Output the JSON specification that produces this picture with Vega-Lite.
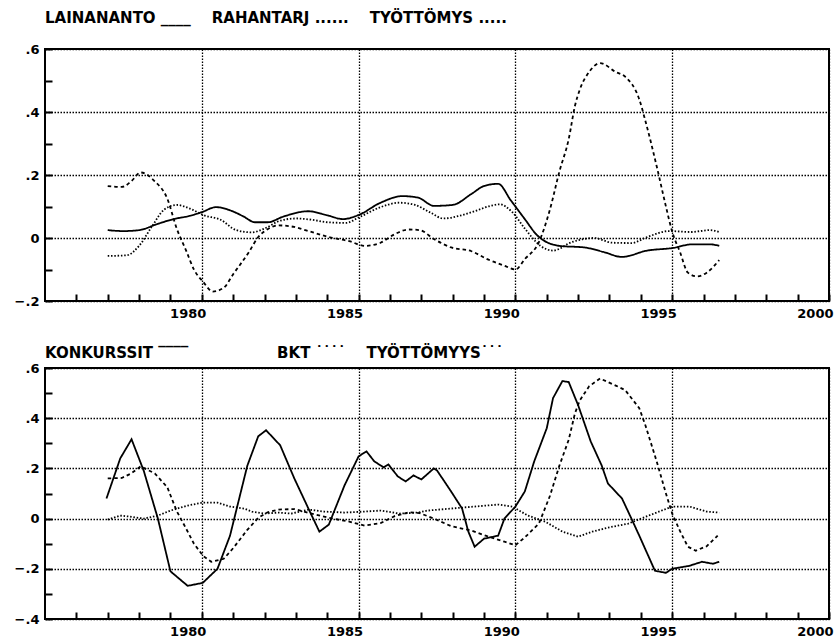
{
  "$schema": "https://vega.github.io/schema/vega-lite/v6.json",
  "background": "white",
  "padding": {"left": 13, "top": 10, "right": 3, "bottom": 2},
  "spacing": 67,
  "bounds": "flush",
  "config": {
    "view": {"stroke": "black", "strokeWidth": 2},
    "font": "DejaVu Sans",
    "axis": {
      "title": null,
      "domain": false,
      "ticks": true,
      "tickSize": -7,
      "tickColor": "black",
      "tickWidth": 2,
      "grid": true,
      "gridColor": "black",
      "gridDash": [1.5, 1.5],
      "gridWidth": 1.3,
      "labelFont": "DejaVu Sans",
      "labelFontSize": 13,
      "labelFontWeight": "bold",
      "labelColor": "black",
      "labelFlush": false,
      "labelOverlap": false
    },
    "title": {"font": "DejaVu Sans", "fontSize": 15, "fontWeight": "bold", "color": "black", "anchor": "start", "frame": "group", "baseline": "alphabetic"}
  },
  "datasets": {
    "top": [
      {"series": "LAINANANTO", "year": 1977.0, "value": 0.025},
      {"series": "LAINANANTO", "year": 1977.5, "value": 0.022},
      {"series": "LAINANANTO", "year": 1978.0, "value": 0.025},
      {"series": "LAINANANTO", "year": 1978.6, "value": 0.045},
      {"series": "LAINANANTO", "year": 1979.1, "value": 0.06},
      {"series": "LAINANANTO", "year": 1979.6, "value": 0.07},
      {"series": "LAINANANTO", "year": 1980.0, "value": 0.082},
      {"series": "LAINANANTO", "year": 1980.45, "value": 0.098},
      {"series": "LAINANANTO", "year": 1980.9, "value": 0.088},
      {"series": "LAINANANTO", "year": 1981.3, "value": 0.07},
      {"series": "LAINANANTO", "year": 1981.7, "value": 0.05},
      {"series": "LAINANANTO", "year": 1982.1, "value": 0.05},
      {"series": "LAINANANTO", "year": 1982.6, "value": 0.068},
      {"series": "LAINANANTO", "year": 1983.4, "value": 0.085},
      {"series": "LAINANANTO", "year": 1984.0, "value": 0.072},
      {"series": "LAINANANTO", "year": 1984.5, "value": 0.06},
      {"series": "LAINANANTO", "year": 1985.0, "value": 0.073},
      {"series": "LAINANANTO", "year": 1985.7, "value": 0.112},
      {"series": "LAINANANTO", "year": 1986.4, "value": 0.133},
      {"series": "LAINANANTO", "year": 1986.9, "value": 0.128},
      {"series": "LAINANANTO", "year": 1987.4, "value": 0.102},
      {"series": "LAINANANTO", "year": 1988.0, "value": 0.105},
      {"series": "LAINANANTO", "year": 1988.6, "value": 0.14},
      {"series": "LAINANANTO", "year": 1989.0, "value": 0.165},
      {"series": "LAINANANTO", "year": 1989.45, "value": 0.172},
      {"series": "LAINANANTO", "year": 1989.85, "value": 0.12},
      {"series": "LAINANANTO", "year": 1990.3, "value": 0.06},
      {"series": "LAINANANTO", "year": 1990.7, "value": 0.008},
      {"series": "LAINANANTO", "year": 1991.4, "value": -0.025},
      {"series": "LAINANANTO", "year": 1992.2, "value": -0.03},
      {"series": "LAINANANTO", "year": 1992.8, "value": -0.044},
      {"series": "LAINANANTO", "year": 1993.4, "value": -0.06},
      {"series": "LAINANANTO", "year": 1994.2, "value": -0.04},
      {"series": "LAINANANTO", "year": 1995.0, "value": -0.032},
      {"series": "LAINANANTO", "year": 1995.65, "value": -0.02},
      {"series": "LAINANANTO", "year": 1996.2, "value": -0.02},
      {"series": "LAINANANTO", "year": 1996.5, "value": -0.025},

      {"series": "RAHANTARJ", "year": 1977.0, "value": -0.057},
      {"series": "RAHANTARJ", "year": 1977.6, "value": -0.055},
      {"series": "RAHANTARJ", "year": 1978.0, "value": -0.025},
      {"series": "RAHANTARJ", "year": 1978.4, "value": 0.035},
      {"series": "RAHANTARJ", "year": 1978.8, "value": 0.09},
      {"series": "RAHANTARJ", "year": 1979.2, "value": 0.105},
      {"series": "RAHANTARJ", "year": 1979.65, "value": 0.092},
      {"series": "RAHANTARJ", "year": 1980.07, "value": 0.072},
      {"series": "RAHANTARJ", "year": 1980.6, "value": 0.058},
      {"series": "RAHANTARJ", "year": 1981.1, "value": 0.025},
      {"series": "RAHANTARJ", "year": 1981.6, "value": 0.018},
      {"series": "RAHANTARJ", "year": 1982.0, "value": 0.03},
      {"series": "RAHANTARJ", "year": 1982.5, "value": 0.055},
      {"series": "RAHANTARJ", "year": 1983.0, "value": 0.062},
      {"series": "RAHANTARJ", "year": 1983.5, "value": 0.058},
      {"series": "RAHANTARJ", "year": 1984.0, "value": 0.05},
      {"series": "RAHANTARJ", "year": 1984.6, "value": 0.048},
      {"series": "RAHANTARJ", "year": 1985.0, "value": 0.065},
      {"series": "RAHANTARJ", "year": 1985.7, "value": 0.098},
      {"series": "RAHANTARJ", "year": 1986.3, "value": 0.112},
      {"series": "RAHANTARJ", "year": 1986.8, "value": 0.105},
      {"series": "RAHANTARJ", "year": 1987.3, "value": 0.08},
      {"series": "RAHANTARJ", "year": 1987.7, "value": 0.062},
      {"series": "RAHANTARJ", "year": 1988.2, "value": 0.07},
      {"series": "RAHANTARJ", "year": 1988.7, "value": 0.085},
      {"series": "RAHANTARJ", "year": 1989.2, "value": 0.102},
      {"series": "RAHANTARJ", "year": 1989.5, "value": 0.107},
      {"series": "RAHANTARJ", "year": 1989.9, "value": 0.082},
      {"series": "RAHANTARJ", "year": 1990.3, "value": 0.03},
      {"series": "RAHANTARJ", "year": 1990.8, "value": -0.025},
      {"series": "RAHANTARJ", "year": 1991.2, "value": -0.04},
      {"series": "RAHANTARJ", "year": 1991.8, "value": -0.013},
      {"series": "RAHANTARJ", "year": 1992.5, "value": 0.0},
      {"series": "RAHANTARJ", "year": 1993.1, "value": -0.015},
      {"series": "RAHANTARJ", "year": 1993.7, "value": -0.016},
      {"series": "RAHANTARJ", "year": 1994.2, "value": 0.003},
      {"series": "RAHANTARJ", "year": 1994.9, "value": 0.022},
      {"series": "RAHANTARJ", "year": 1995.6, "value": 0.019},
      {"series": "RAHANTARJ", "year": 1996.2, "value": 0.025},
      {"series": "RAHANTARJ", "year": 1996.5, "value": 0.019},

      {"series": "TYÖTTÖMYS", "year": 1977.0, "value": 0.165},
      {"series": "TYÖTTÖMYS", "year": 1977.45, "value": 0.162},
      {"series": "TYÖTTÖMYS", "year": 1977.75, "value": 0.18},
      {"series": "TYÖTTÖMYS", "year": 1978.05, "value": 0.208},
      {"series": "TYÖTTÖMYS", "year": 1978.5, "value": 0.18},
      {"series": "TYÖTTÖMYS", "year": 1978.9, "value": 0.125},
      {"series": "TYÖTTÖMYS", "year": 1979.2, "value": 0.03},
      {"series": "TYÖTTÖMYS", "year": 1979.5, "value": -0.04},
      {"series": "TYÖTTÖMYS", "year": 1979.75, "value": -0.1},
      {"series": "TYÖTTÖMYS", "year": 1980.05, "value": -0.14},
      {"series": "TYÖTTÖMYS", "year": 1980.35, "value": -0.17},
      {"series": "TYÖTTÖMYS", "year": 1980.7, "value": -0.158},
      {"series": "TYÖTTÖMYS", "year": 1981.0, "value": -0.115},
      {"series": "TYÖTTÖMYS", "year": 1981.5, "value": -0.045},
      {"series": "TYÖTTÖMYS", "year": 1981.8, "value": 0.003},
      {"series": "TYÖTTÖMYS", "year": 1982.1, "value": 0.028},
      {"series": "TYÖTTÖMYS", "year": 1982.45, "value": 0.04},
      {"series": "TYÖTTÖMYS", "year": 1982.95, "value": 0.035},
      {"series": "TYÖTTÖMYS", "year": 1983.4, "value": 0.022},
      {"series": "TYÖTTÖMYS", "year": 1984.05, "value": 0.003},
      {"series": "TYÖTTÖMYS", "year": 1984.7, "value": -0.01},
      {"series": "TYÖTTÖMYS", "year": 1985.2, "value": -0.025},
      {"series": "TYÖTTÖMYS", "year": 1985.7, "value": -0.015},
      {"series": "TYÖTTÖMYS", "year": 1986.15, "value": 0.012},
      {"series": "TYÖTTÖMYS", "year": 1986.6, "value": 0.027},
      {"series": "TYÖTTÖMYS", "year": 1986.95, "value": 0.025},
      {"series": "TYÖTTÖMYS", "year": 1987.4, "value": -0.003},
      {"series": "TYÖTTÖMYS", "year": 1987.95, "value": -0.03},
      {"series": "TYÖTTÖMYS", "year": 1988.6, "value": -0.042},
      {"series": "TYÖTTÖMYS", "year": 1989.1, "value": -0.067},
      {"series": "TYÖTTÖMYS", "year": 1989.65, "value": -0.088},
      {"series": "TYÖTTÖMYS", "year": 1990.0, "value": -0.1},
      {"series": "TYÖTTÖMYS", "year": 1990.3, "value": -0.067},
      {"series": "TYÖTTÖMYS", "year": 1990.75, "value": -0.013},
      {"series": "TYÖTTÖMYS", "year": 1991.1, "value": 0.09},
      {"series": "TYÖTTÖMYS", "year": 1991.4, "value": 0.21},
      {"series": "TYÖTTÖMYS", "year": 1991.7, "value": 0.314},
      {"series": "TYÖTTÖMYS", "year": 1991.9, "value": 0.42},
      {"series": "TYÖTTÖMYS", "year": 1992.05, "value": 0.47},
      {"series": "TYÖTTÖMYS", "year": 1992.35, "value": 0.527},
      {"series": "TYÖTTÖMYS", "year": 1992.7, "value": 0.555},
      {"series": "TYÖTTÖMYS", "year": 1993.2, "value": 0.527},
      {"series": "TYÖTTÖMYS", "year": 1993.5, "value": 0.512},
      {"series": "TYÖTTÖMYS", "year": 1993.95, "value": 0.44},
      {"series": "TYÖTTÖMYS", "year": 1994.15, "value": 0.37},
      {"series": "TYÖTTÖMYS", "year": 1994.5, "value": 0.23},
      {"series": "TYÖTTÖMYS", "year": 1994.8, "value": 0.1},
      {"series": "TYÖTTÖMYS", "year": 1995.0, "value": 0.02},
      {"series": "TYÖTTÖMYS", "year": 1995.25, "value": -0.045},
      {"series": "TYÖTTÖMYS", "year": 1995.5, "value": -0.11},
      {"series": "TYÖTTÖMYS", "year": 1995.8, "value": -0.122},
      {"series": "TYÖTTÖMYS", "year": 1996.1, "value": -0.11},
      {"series": "TYÖTTÖMYS", "year": 1996.5, "value": -0.07}
    ],
    "bottom": [
      {"series": "KONKURSSIT", "year": 1976.96, "value": 0.08},
      {"series": "KONKURSSIT", "year": 1977.4, "value": 0.24},
      {"series": "KONKURSSIT", "year": 1977.76, "value": 0.316},
      {"series": "KONKURSSIT", "year": 1978.15, "value": 0.19},
      {"series": "KONKURSSIT", "year": 1978.6, "value": 0.0},
      {"series": "KONKURSSIT", "year": 1979.0, "value": -0.21},
      {"series": "KONKURSSIT", "year": 1979.55, "value": -0.268},
      {"series": "KONKURSSIT", "year": 1980.03, "value": -0.256},
      {"series": "KONKURSSIT", "year": 1980.5, "value": -0.2},
      {"series": "KONKURSSIT", "year": 1980.9, "value": -0.068},
      {"series": "KONKURSSIT", "year": 1981.45, "value": 0.21},
      {"series": "KONKURSSIT", "year": 1981.8, "value": 0.328},
      {"series": "KONKURSSIT", "year": 1982.05, "value": 0.352},
      {"series": "KONKURSSIT", "year": 1982.5, "value": 0.292},
      {"series": "KONKURSSIT", "year": 1982.95, "value": 0.16},
      {"series": "KONKURSSIT", "year": 1983.4, "value": 0.04},
      {"series": "KONKURSSIT", "year": 1983.75, "value": -0.052},
      {"series": "KONKURSSIT", "year": 1984.05, "value": -0.024},
      {"series": "KONKURSSIT", "year": 1984.55, "value": 0.132},
      {"series": "KONKURSSIT", "year": 1985.0, "value": 0.248},
      {"series": "KONKURSSIT", "year": 1985.25, "value": 0.268},
      {"series": "KONKURSSIT", "year": 1985.5, "value": 0.228},
      {"series": "KONKURSSIT", "year": 1985.8, "value": 0.204},
      {"series": "KONKURSSIT", "year": 1985.95, "value": 0.216},
      {"series": "KONKURSSIT", "year": 1986.25, "value": 0.168},
      {"series": "KONKURSSIT", "year": 1986.5, "value": 0.148},
      {"series": "KONKURSSIT", "year": 1986.75, "value": 0.172},
      {"series": "KONKURSSIT", "year": 1987.0, "value": 0.156},
      {"series": "KONKURSSIT", "year": 1987.4, "value": 0.2},
      {"series": "KONKURSSIT", "year": 1987.5, "value": 0.192},
      {"series": "KONKURSSIT", "year": 1987.95, "value": 0.108},
      {"series": "KONKURSSIT", "year": 1988.3, "value": 0.04},
      {"series": "KONKURSSIT", "year": 1988.5, "value": -0.052},
      {"series": "KONKURSSIT", "year": 1988.7, "value": -0.112},
      {"series": "KONKURSSIT", "year": 1989.0, "value": -0.08},
      {"series": "KONKURSSIT", "year": 1989.45, "value": -0.068},
      {"series": "KONKURSSIT", "year": 1989.65, "value": 0.0},
      {"series": "KONKURSSIT", "year": 1990.0, "value": 0.048},
      {"series": "KONKURSSIT", "year": 1990.3, "value": 0.108},
      {"series": "KONKURSSIT", "year": 1990.6, "value": 0.228},
      {"series": "KONKURSSIT", "year": 1991.0, "value": 0.36},
      {"series": "KONKURSSIT", "year": 1991.2, "value": 0.48},
      {"series": "KONKURSSIT", "year": 1991.5, "value": 0.548},
      {"series": "KONKURSSIT", "year": 1991.7, "value": 0.544},
      {"series": "KONKURSSIT", "year": 1992.0, "value": 0.452},
      {"series": "KONKURSSIT", "year": 1992.4, "value": 0.308},
      {"series": "KONKURSSIT", "year": 1992.75, "value": 0.212},
      {"series": "KONKURSSIT", "year": 1992.95, "value": 0.14},
      {"series": "KONKURSSIT", "year": 1993.4, "value": 0.08},
      {"series": "KONKURSSIT", "year": 1993.7, "value": 0.0},
      {"series": "KONKURSSIT", "year": 1993.95, "value": -0.068},
      {"series": "KONKURSSIT", "year": 1994.45, "value": -0.208},
      {"series": "KONKURSSIT", "year": 1994.8, "value": -0.216},
      {"series": "KONKURSSIT", "year": 1995.0, "value": -0.2},
      {"series": "KONKURSSIT", "year": 1995.55, "value": -0.188},
      {"series": "KONKURSSIT", "year": 1995.95, "value": -0.172},
      {"series": "KONKURSSIT", "year": 1996.3, "value": -0.18},
      {"series": "KONKURSSIT", "year": 1996.5, "value": -0.172},

      {"series": "BKT", "year": 1977.0, "value": -0.004},
      {"series": "BKT", "year": 1977.4, "value": 0.012},
      {"series": "BKT", "year": 1977.7, "value": 0.008},
      {"series": "BKT", "year": 1978.15, "value": 0.0},
      {"series": "BKT", "year": 1978.6, "value": 0.012},
      {"series": "BKT", "year": 1979.0, "value": 0.032},
      {"series": "BKT", "year": 1979.55, "value": 0.052},
      {"series": "BKT", "year": 1980.03, "value": 0.064},
      {"series": "BKT", "year": 1980.5, "value": 0.064},
      {"series": "BKT", "year": 1980.9, "value": 0.048},
      {"series": "BKT", "year": 1981.35, "value": 0.04},
      {"series": "BKT", "year": 1981.6, "value": 0.028},
      {"series": "BKT", "year": 1982.0, "value": 0.02},
      {"series": "BKT", "year": 1982.45, "value": 0.024},
      {"series": "BKT", "year": 1982.85, "value": 0.02},
      {"series": "BKT", "year": 1983.4, "value": 0.036},
      {"series": "BKT", "year": 1983.9, "value": 0.028},
      {"series": "BKT", "year": 1984.55, "value": 0.024},
      {"series": "BKT", "year": 1985.2, "value": 0.028},
      {"series": "BKT", "year": 1985.7, "value": 0.032},
      {"series": "BKT", "year": 1986.3, "value": 0.02},
      {"series": "BKT", "year": 1986.9, "value": 0.024},
      {"series": "BKT", "year": 1987.2, "value": 0.032},
      {"series": "BKT", "year": 1987.95, "value": 0.04},
      {"series": "BKT", "year": 1988.7, "value": 0.048},
      {"series": "BKT", "year": 1989.45, "value": 0.056},
      {"series": "BKT", "year": 1989.9, "value": 0.048},
      {"series": "BKT", "year": 1990.4, "value": 0.012},
      {"series": "BKT", "year": 1990.95, "value": -0.012},
      {"series": "BKT", "year": 1991.5, "value": -0.052},
      {"series": "BKT", "year": 1992.0, "value": -0.072},
      {"series": "BKT", "year": 1992.45, "value": -0.052},
      {"series": "BKT", "year": 1992.95, "value": -0.036},
      {"series": "BKT", "year": 1993.6, "value": -0.02},
      {"series": "BKT", "year": 1994.25, "value": 0.012},
      {"series": "BKT", "year": 1995.0, "value": 0.048},
      {"series": "BKT", "year": 1995.55, "value": 0.048},
      {"series": "BKT", "year": 1996.1, "value": 0.028},
      {"series": "BKT", "year": 1996.5, "value": 0.024},

      {"series": "TYÖTTÖMYYS", "year": 1977.0, "value": 0.16},
      {"series": "TYÖTTÖMYYS", "year": 1977.45, "value": 0.162},
      {"series": "TYÖTTÖMYYS", "year": 1977.75, "value": 0.18},
      {"series": "TYÖTTÖMYYS", "year": 1978.05, "value": 0.208},
      {"series": "TYÖTTÖMYYS", "year": 1978.5, "value": 0.18},
      {"series": "TYÖTTÖMYYS", "year": 1978.9, "value": 0.125},
      {"series": "TYÖTTÖMYYS", "year": 1979.2, "value": 0.03},
      {"series": "TYÖTTÖMYYS", "year": 1979.5, "value": -0.04},
      {"series": "TYÖTTÖMYYS", "year": 1979.75, "value": -0.1},
      {"series": "TYÖTTÖMYYS", "year": 1980.05, "value": -0.15},
      {"series": "TYÖTTÖMYYS", "year": 1980.3, "value": -0.172},
      {"series": "TYÖTTÖMYYS", "year": 1980.7, "value": -0.16},
      {"series": "TYÖTTÖMYYS", "year": 1981.0, "value": -0.118},
      {"series": "TYÖTTÖMYYS", "year": 1981.45, "value": -0.045},
      {"series": "TYÖTTÖMYYS", "year": 1981.8, "value": 0.003},
      {"series": "TYÖTTÖMYYS", "year": 1982.1, "value": 0.025},
      {"series": "TYÖTTÖMYYS", "year": 1982.45, "value": 0.036},
      {"series": "TYÖTTÖMYYS", "year": 1982.95, "value": 0.038},
      {"series": "TYÖTTÖMYYS", "year": 1983.5, "value": 0.02},
      {"series": "TYÖTTÖMYYS", "year": 1984.05, "value": 0.003},
      {"series": "TYÖTTÖMYYS", "year": 1984.7, "value": -0.012},
      {"series": "TYÖTTÖMYYS", "year": 1985.2, "value": -0.028},
      {"series": "TYÖTTÖMYYS", "year": 1985.7, "value": -0.018},
      {"series": "TYÖTTÖMYYS", "year": 1986.15, "value": 0.01},
      {"series": "TYÖTTÖMYYS", "year": 1986.6, "value": 0.025},
      {"series": "TYÖTTÖMYYS", "year": 1986.95, "value": 0.022},
      {"series": "TYÖTTÖMYYS", "year": 1987.4, "value": 0.0},
      {"series": "TYÖTTÖMYYS", "year": 1987.95, "value": -0.03},
      {"series": "TYÖTTÖMYYS", "year": 1988.6, "value": -0.048},
      {"series": "TYÖTTÖMYYS", "year": 1989.1, "value": -0.07},
      {"series": "TYÖTTÖMYYS", "year": 1989.65, "value": -0.092},
      {"series": "TYÖTTÖMYYS", "year": 1990.0, "value": -0.106},
      {"series": "TYÖTTÖMYYS", "year": 1990.3, "value": -0.075},
      {"series": "TYÖTTÖMYYS", "year": 1990.75, "value": -0.02},
      {"series": "TYÖTTÖMYYS", "year": 1991.1, "value": 0.09},
      {"series": "TYÖTTÖMYYS", "year": 1991.4, "value": 0.21},
      {"series": "TYÖTTÖMYYS", "year": 1991.7, "value": 0.314},
      {"series": "TYÖTTÖMYYS", "year": 1991.9, "value": 0.42},
      {"series": "TYÖTTÖMYYS", "year": 1992.05, "value": 0.47},
      {"series": "TYÖTTÖMYYS", "year": 1992.35, "value": 0.527},
      {"series": "TYÖTTÖMYYS", "year": 1992.7, "value": 0.558},
      {"series": "TYÖTTÖMYYS", "year": 1993.2, "value": 0.53},
      {"series": "TYÖTTÖMYYS", "year": 1993.5, "value": 0.512},
      {"series": "TYÖTTÖMYYS", "year": 1993.95, "value": 0.44},
      {"series": "TYÖTTÖMYYS", "year": 1994.15, "value": 0.37},
      {"series": "TYÖTTÖMYYS", "year": 1994.5, "value": 0.23},
      {"series": "TYÖTTÖMYYS", "year": 1994.8, "value": 0.1},
      {"series": "TYÖTTÖMYYS", "year": 1995.0, "value": 0.02},
      {"series": "TYÖTTÖMYYS", "year": 1995.25, "value": -0.05},
      {"series": "TYÖTTÖMYYS", "year": 1995.5, "value": -0.112},
      {"series": "TYÖTTÖMYYS", "year": 1995.75, "value": -0.128},
      {"series": "TYÖTTÖMYYS", "year": 1996.1, "value": -0.11},
      {"series": "TYÖTTÖMYYS", "year": 1996.45, "value": -0.068}
    ]
  },
  "vconcat": [
    {
      "width": 784,
      "height": 252,
      "title": {"text": "LAINANANTO\u00a0____\u00a0\u00a0\u00a0\u00a0RAHANTARJ\u00a0......\u00a0\u00a0\u00a0\u00a0TYÖTTÖMYS\u00a0.....", "offset": 17},
      "data": {"name": "top"},
      "mark": {"type": "line", "color": "black", "strokeWidth": 1.8, "interpolate": "monotone"},
      "encoding": {
        "x": {
          "field": "year", "type": "quantitative",
          "scale": {"domain": [1975, 2000], "nice": false, "zero": false},
          "axis": {
            "values": [1976, 1977, 1978, 1979, 1980, 1981, 1982, 1983, 1984, 1985, 1986, 1987, 1988, 1989, 1990, 1991, 1992, 1993, 1994, 1995, 1996, 1997, 1998, 1999, 2000],
            "format": "d",
            "gridOpacity": {"condition": {"test": "datum.value % 5 === 0", "value": 1}, "value": 0},
            "labelExpr": "datum.value % 5 === 0 ? datum.label : ''",
            "labelAlign": "right",
            "labelOffset": 4,
            "labelPadding": 13
          }
        },
        "y": {
          "field": "value", "type": "quantitative",
          "scale": {"domain": [-0.2, 0.6], "nice": false, "zero": false},
          "axis": {
            "values": [-0.2, -0.1, 0, 0.1, 0.2, 0.3, 0.4, 0.5, 0.6],
            "gridOpacity": {"condition": {"test": "abs(round(datum.value*10)) % 2 === 0", "value": 1}, "value": 0},
            "labelExpr": "abs(round(datum.value*10)) % 2 === 1 ? '' : (abs(datum.value) < 0.001 ? '0' : replace(format(datum.value, '.1f'), '0.', '.'))",
            "labelPadding": 13,
            "labelBaseline": "middle"
          }
        },
        "strokeDash": {
          "field": "series", "type": "nominal",
          "scale": {"domain": ["LAINANANTO", "RAHANTARJ", "TYÖTTÖMYS"], "range": [[1, 0], [1.5, 1.8], [3.5, 3]]},
          "legend": null
        }
      }
    },
    {
      "width": 784,
      "height": 251,
      "title": {"text": "KONKURSSIT\u00a0‾‾‾‾\u00a0\u00a0\u00a0\u00a0\u00a0\u00a0\u00a0\u00a0\u00a0\u00a0\u00a0\u00a0\u00a0\u00a0\u00a0\u00a0\u00a0BKT\u00a0˙˙˙˙\u00a0\u00a0\u00a0\u00a0TYÖTTÖMYYS˙˙˙", "offset": 1},
      "data": {"name": "bottom"},
      "mark": {"type": "line", "color": "black", "strokeWidth": 1.8},
      "encoding": {
        "x": {
          "field": "year", "type": "quantitative",
          "scale": {"domain": [1975, 2000], "nice": false, "zero": false},
          "axis": {
            "values": [1976, 1977, 1978, 1979, 1980, 1981, 1982, 1983, 1984, 1985, 1986, 1987, 1988, 1989, 1990, 1991, 1992, 1993, 1994, 1995, 1996, 1997, 1998, 1999, 2000],
            "format": "d",
            "gridOpacity": {"condition": {"test": "datum.value % 5 === 0", "value": 1}, "value": 0},
            "labelExpr": "datum.value % 5 === 0 ? datum.label : ''",
            "labelAlign": "right",
            "labelOffset": 4,
            "labelPadding": 13
          }
        },
        "y": {
          "field": "value", "type": "quantitative",
          "scale": {"domain": [-0.4, 0.6], "nice": false, "zero": false},
          "axis": {
            "values": [-0.4, -0.3, -0.2, -0.1, 0, 0.1, 0.2, 0.3, 0.4, 0.5, 0.6],
            "gridOpacity": {"condition": {"test": "abs(round(datum.value*10)) % 2 === 0", "value": 1}, "value": 0},
            "labelExpr": "abs(round(datum.value*10)) % 2 === 1 ? '' : (abs(datum.value) < 0.001 ? '0' : replace(format(datum.value, '.1f'), '0.', '.'))",
            "labelPadding": 13,
            "labelBaseline": "middle"
          }
        },
        "strokeDash": {
          "field": "series", "type": "nominal",
          "scale": {"domain": ["KONKURSSIT", "BKT", "TYÖTTÖMYYS"], "range": [[1, 0], [1.5, 1.8], [3.5, 3]]},
          "legend": null
        }
      }
    }
  ]
}
